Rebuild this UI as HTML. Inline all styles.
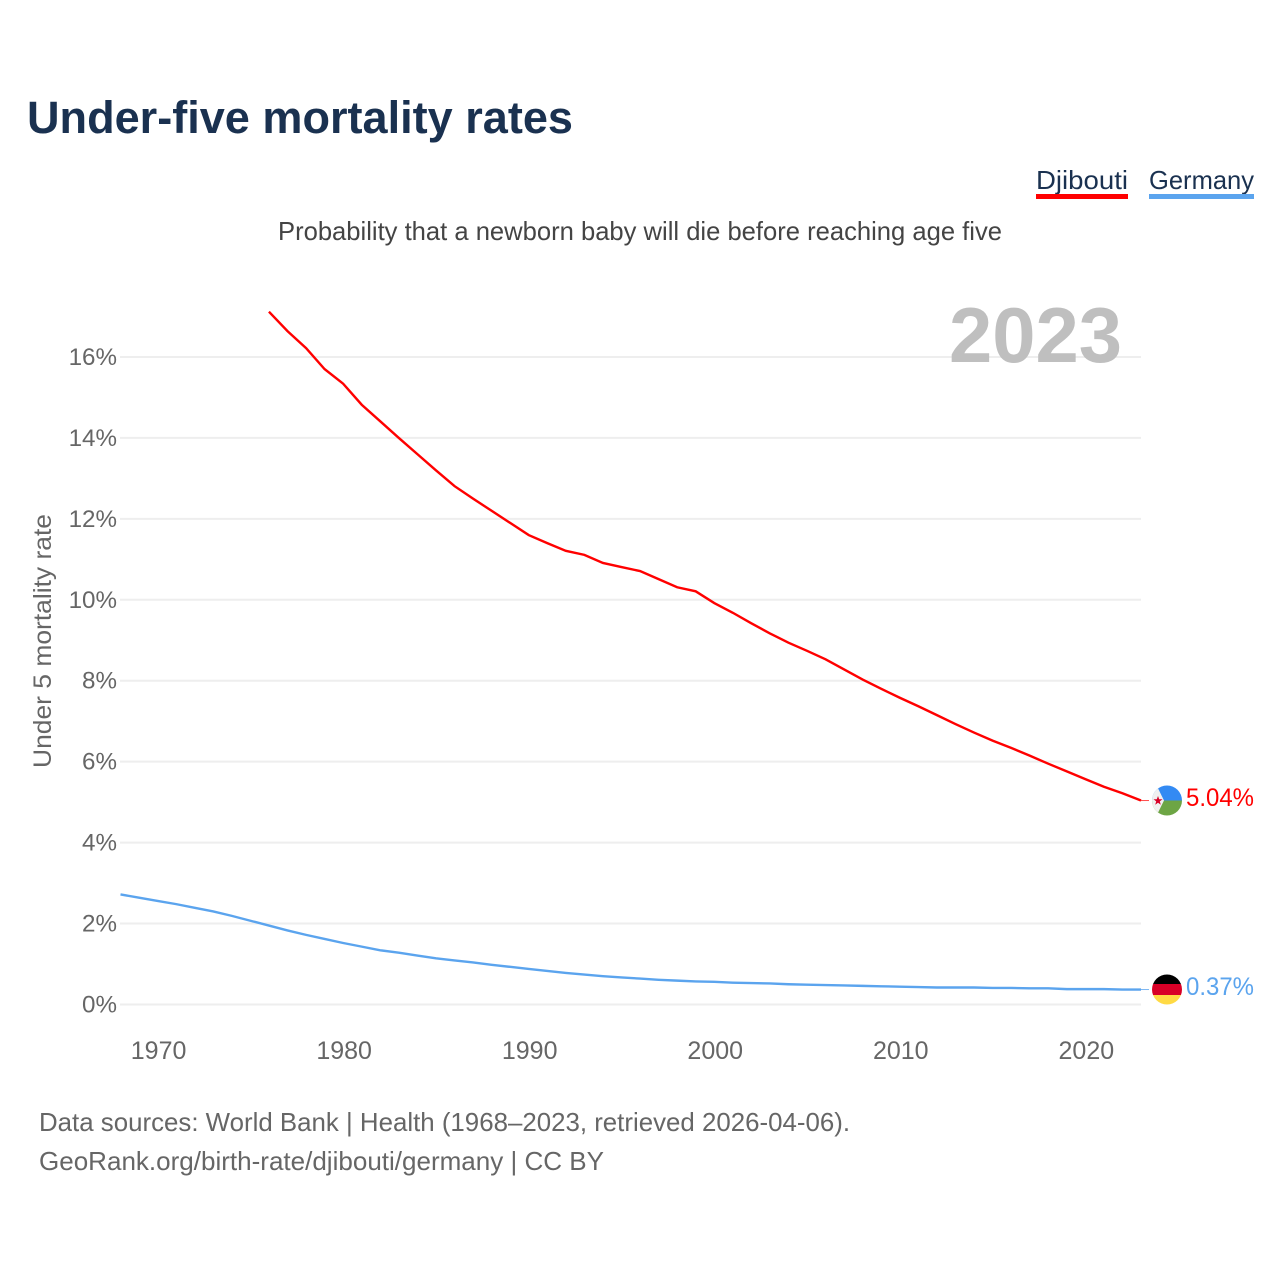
<!DOCTYPE html>
<html lang="en">
<head>
<meta charset="utf-8">
<title>Under-five mortality rates</title>
<style>
html,body{margin:0;padding:0;background:#fff;}
svg{display:block;font-family:"Liberation Sans",sans-serif;}
</style>
</head>
<body>
<svg id="chart" xmlns="http://www.w3.org/2000/svg" width="1280" height="1280" viewBox="0 0 1280 1280">
  <rect width="1280" height="1280" fill="#fff"/>
  <text x="27" y="133" font-size="45" font-weight="700" fill="#1a3150" textLength="546" lengthAdjust="spacingAndGlyphs">Under-five mortality rates</text>
  <text x="1036" y="189" font-size="26" fill="#1a3150" textLength="92" lengthAdjust="spacingAndGlyphs">Djibouti</text>
  <rect x="1036" y="194" width="92" height="5" fill="#ff0000"/>
  <text x="1149" y="189" font-size="26" fill="#1a3150" textLength="105" lengthAdjust="spacingAndGlyphs">Germany</text>
  <rect x="1149" y="194" width="105" height="5" fill="#5ba4ee"/>
  <text x="278" y="240" font-size="26" fill="#444" textLength="724" lengthAdjust="spacingAndGlyphs">Probability that a newborn baby will die before reaching age five</text>
  <text transform="translate(51,768) rotate(-90)" x="0" y="0" font-size="25" fill="#666" textLength="254" lengthAdjust="spacingAndGlyphs">Under 5 mortality rate</text>
  <g id="grid"></g>
  <g id="yticks"></g>
  <g id="xticks"></g>
  <text x="949" y="362" font-size="78" font-weight="700" fill="#bfbfbf" textLength="173" lengthAdjust="spacingAndGlyphs">2023</text>
  <g id="series"></g>

  <defs>
    <clipPath id="clip-dj"><circle cx="1167" cy="800.5" r="15"/></clipPath>
    <clipPath id="clip-de"><circle cx="1167" cy="989.5" r="15"/></clipPath>
  </defs>
  <g clip-path="url(#clip-dj)">
    <rect x="1152" y="785" width="30" height="15.5" fill="#338af3"/>
    <rect x="1152" y="800.5" width="30" height="16" fill="#6da544"/>
    <polygon points="1150,772 1164,800.5 1150,829" fill="#f0f0f0"/>
    <polygon points="1158,796 1159.2,799.3 1162.5,799.3 1159.8,801.4 1160.8,804.7 1158,802.7 1155.2,804.7 1156.2,801.4 1153.5,799.3 1156.8,799.3" fill="#d80027"/>
  </g>
  <g clip-path="url(#clip-de)">
    <rect x="1152" y="974" width="30" height="10.5" fill="#000"/>
    <rect x="1152" y="984" width="30" height="11" fill="#d80027"/>
    <rect x="1152" y="995" width="30" height="10" fill="#ffda44"/>
  </g>
  <text x="1186" y="806" font-size="25" fill="#ff0000" textLength="68" lengthAdjust="spacingAndGlyphs">5.04%</text>
  <text x="1186" y="995" font-size="25" fill="#5ba4ee" textLength="68" lengthAdjust="spacingAndGlyphs">0.37%</text>
  <text x="39" y="1131" font-size="26" fill="#666" textLength="811" lengthAdjust="spacingAndGlyphs">Data sources: World Bank | Health (1968–2023, retrieved 2026-04-06).</text>
  <text x="39" y="1170" font-size="26" fill="#666" textLength="565" lengthAdjust="spacingAndGlyphs">GeoRank.org/birth-rate/djibouti/germany | CC BY</text>
</svg>
<script>
const years = [1968,1969,1970,1971,1972,1973,1974,1975,1976,1977,1978,1979,1980,1981,1982,1983,1984,1985,1986,1987,1988,1989,1990,1991,1992,1993,1994,1995,1996,1997,1998,1999,2000,2001,2002,2003,2004,2005,2006,2007,2008,2009,2010,2011,2012,2013,2014,2015,2016,2017,2018,2019,2020,2021,2022,2023];
const djibouti = [null,null,null,null,null,null,null,null,17.12,16.64,16.22,15.7,15.34,14.82,14.41,14.0,13.6,13.2,12.81,12.5,12.2,11.9,11.6,11.4,11.21,11.11,10.91,10.81,10.71,10.51,10.31,10.21,9.92,9.68,9.42,9.17,8.94,8.74,8.53,8.28,8.03,7.8,7.58,7.37,7.15,6.93,6.72,6.52,6.34,6.15,5.95,5.76,5.57,5.38,5.22,5.04];
const germany = [2.72,2.64,2.56,2.48,2.39,2.3,2.19,2.07,1.95,1.83,1.72,1.62,1.52,1.43,1.34,1.28,1.21,1.14,1.09,1.04,0.98,0.93,0.88,0.83,0.78,0.74,0.7,0.67,0.64,0.61,0.59,0.57,0.56,0.54,0.53,0.52,0.5,0.49,0.48,0.47,0.46,0.45,0.44,0.43,0.42,0.42,0.42,0.41,0.41,0.4,0.4,0.38,0.38,0.38,0.37,0.37];
const yTickValues = [0,2,4,6,8,10,12,14,16];
const xTickValues = [1970,1980,1990,2000,2010,2020];

const NS = 'http://www.w3.org/2000/svg';
const xScale = function (year) { return 120.5 + (year - 1968) * (1141 - 120.5) / (2023 - 1968); };
const yScale = function (v) { return 1004.5 - v * 40.47; };

const grid = document.getElementById('grid');
const yticks = document.getElementById('yticks');
const xticks = document.getElementById('xticks');
const series = document.getElementById('series');

yTickValues.forEach(function (v) {
  const line = document.createElementNS(NS, 'line');
  
  
  line.setAttribute('x1', 120);
  line.setAttribute('x2', 1141);
  line.setAttribute('y1', yScale(v));
  line.setAttribute('y2', yScale(v));
  line.setAttribute('stroke', '#eeeeee');
  line.setAttribute('stroke-width', 2);
  grid.appendChild(line);

  const label = document.createElementNS(NS, 'text');
  
  
  label.setAttribute('x', 117);
  label.setAttribute('y', yScale(v) + 8);
  label.setAttribute('text-anchor', 'end');
  label.setAttribute('font-size', 24.2);
  label.setAttribute('fill', '#666');
  label.textContent = v + '%';
  yticks.appendChild(label);
});

xTickValues.forEach(function (year) {
  const label = document.createElementNS(NS, 'text');
  
  
  label.setAttribute('x', xScale(year) + 1);
  label.setAttribute('y', 1059);
  label.setAttribute('text-anchor', 'middle');
  label.setAttribute('font-size', 25);
  label.setAttribute('fill', '#666');
  label.textContent = year;
  xticks.appendChild(label);
});

function buildPath(values) {
  let d = '';
  values.forEach(function (v, i) {
    if (v === null) return;
    d += (d ? 'L' : 'M') + xScale(years[i]).toFixed(2) + ' ' + yScale(v).toFixed(2);
  });
  return d;
}

const djLine = document.createElementNS(NS, 'path');


djLine.setAttribute('d', buildPath(djibouti));
djLine.setAttribute('fill', 'none');
djLine.setAttribute('stroke', '#ff0000');
djLine.setAttribute('stroke-width', 2.4);
series.appendChild(djLine);

const deLine = document.createElementNS(NS, 'path');


deLine.setAttribute('d', buildPath(germany));
deLine.setAttribute('fill', 'none');
deLine.setAttribute('stroke', '#5ba4ee');
deLine.setAttribute('stroke-width', 2.4);
series.appendChild(deLine);

const djLeader = document.createElementNS(NS, 'line');


djLeader.setAttribute('x1', 1141);
djLeader.setAttribute('x2', 1149);
djLeader.setAttribute('y1', yScale(djibouti[djibouti.length - 1]));
djLeader.setAttribute('y2', yScale(djibouti[djibouti.length - 1]));
djLeader.setAttribute('stroke', '#ff0000');
djLeader.setAttribute('stroke-width', 1);
djLeader.setAttribute('opacity', 0.7);
series.appendChild(djLeader);

const deLeader = document.createElementNS(NS, 'line');


deLeader.setAttribute('x1', 1141);
deLeader.setAttribute('x2', 1149);
deLeader.setAttribute('y1', yScale(germany[germany.length - 1]));
deLeader.setAttribute('y2', yScale(germany[germany.length - 1]));
deLeader.setAttribute('stroke', '#5ba4ee');
deLeader.setAttribute('stroke-width', 1);
deLeader.setAttribute('opacity', 0.8);
series.appendChild(deLeader);
</script>
</body>
</html>
